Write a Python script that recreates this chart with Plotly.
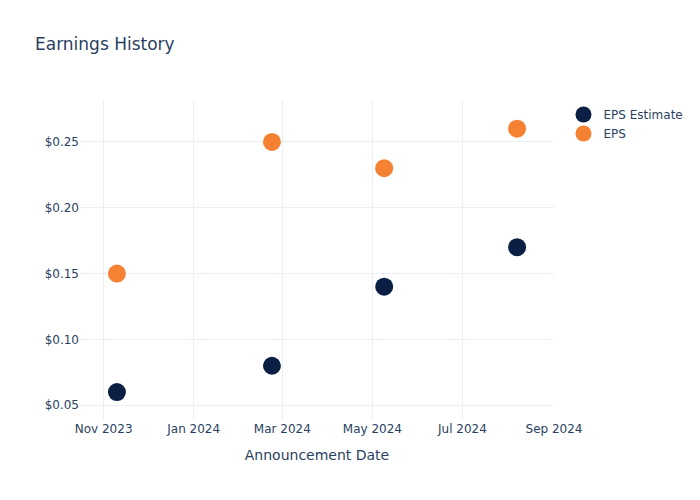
import plotly.graph_objects as go

dates = ["2023-11-10", "2024-02-23", "2024-05-09", "2024-08-07"]
eps_estimate = [0.06, 0.08, 0.14, 0.17]
eps_actual = [0.15, 0.25, 0.23, 0.26]

fig = go.Figure()
fig.add_trace(go.Scatter(x=dates, y=eps_estimate, mode="markers", name="EPS Estimate",
                         marker=dict(color="#0B1F44", size=18)))
fig.add_trace(go.Scatter(x=dates, y=eps_actual, mode="markers", name="EPS",
                         marker=dict(color="#F58233", size=18)))
fig.update_layout(
    template="plotly_white",
    width=700, height=500,
    font=dict(family="DejaVu Sans"),
    title="Earnings History",
    xaxis=dict(title="Announcement Date", range=["2023-10-16", "2024-09-01"]),
    yaxis=dict(tickprefix="$", tickformat=".2f", range=[0.0388, 0.2818]),
)
fig.write_html("out.html")
